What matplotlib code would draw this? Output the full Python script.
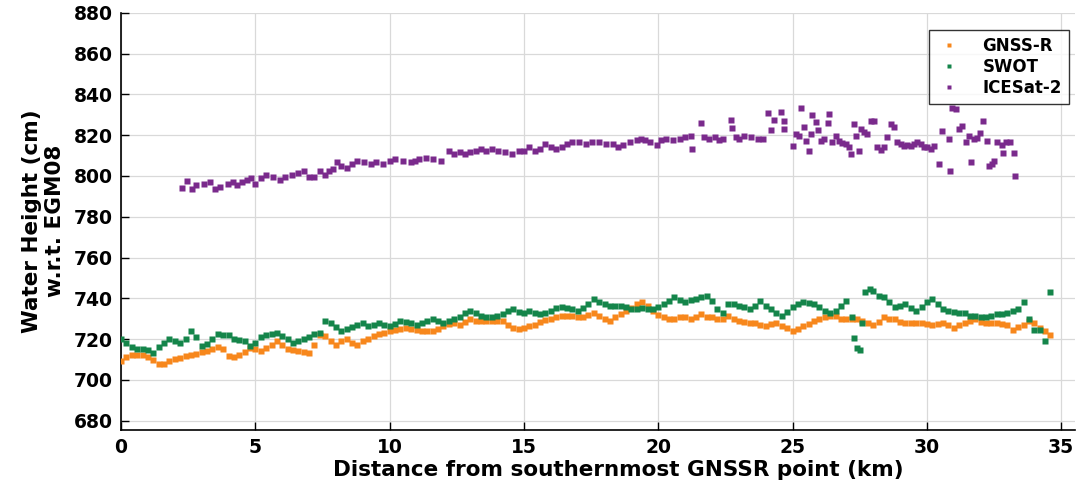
import numpy as np
import matplotlib
matplotlib.use("Agg")
import matplotlib.pyplot as plt

plt.rcParams["font.family"] = "DejaVu Sans"
plt.rcParams["font.weight"] = "bold"

# ===== GNSS-R (every 0.2 km) =====
gnss_x = np.round(np.arange(0, 34.61, 0.2), 1)
gnss_y = [
    709, 711, 712, 712.4, 712, 711, 709.5, 708, 708, 709,
    710, 710.8, 711.5, 712, 712.5, 713.5, 714, 715, 716, 715,
    711.6, 711, 712, 713.5, 715.5, 715, 714, 715.5, 717, 719,
    717, 715, 714.5, 714, 713.5, 713, 717.3, 722, 721.6, 719,
    717.3, 719, 720, 718, 717, 719, 720, 721.5, 722.5, 723,
    724, 724.6, 725, 725.4, 725, 724.6, 724, 724, 724, 725,
    726.3, 727.5, 728, 727, 728.5, 729.6, 729, 729, 729, 729,
    729, 729, 727, 725.4, 725, 725.4, 726.5, 727, 728.5, 729.3,
    730, 730.6, 731.2, 731.5, 731.5, 731, 730.6, 732, 733, 731.5,
    730, 729, 731, 732.3, 734, 735, 737, 738, 736.4, 734,
    732, 731, 730, 729.6, 731, 731, 729.6, 731, 732.3, 731,
    730.6, 729.6, 730, 731.5, 730, 729, 728.5, 728, 728, 727,
    726.3, 727.5, 728, 726.5, 725.4, 723.8, 725, 726.3, 727.5, 729,
    730, 730.6, 731.5, 731.5, 730, 729.6, 729.6, 729.6, 729, 728,
    727, 728.5, 730.6, 730, 729.6, 728.5, 728, 728, 728, 728,
    727.5, 727, 727.5, 728, 727, 725.4, 727, 728, 729, 729.6,
    728.5, 728, 728, 728, 727.5, 727, 724.6, 726, 727, 729,
    728, 725.4, 724, 722,
]

# ===== SWOT =====
swot_x = [
    0.0, 0.2, 0.4, 0.6, 0.8, 1.0, 1.2, 1.4, 1.6, 1.8,
    2.0, 2.2, 2.4, 2.6, 2.8, 3.0, 3.2, 3.4, 3.6, 3.8,
    4.0, 4.2, 4.4, 4.6, 4.8, 5.0, 5.2, 5.4, 5.6, 5.8,
    6.0, 6.2, 6.4, 6.6, 6.8, 7.0, 7.2, 7.4, 7.6, 7.8,
    8.0, 8.2, 8.4, 8.6, 8.8, 9.0, 9.2, 9.4, 9.6, 9.8,
    10.0, 10.2, 10.4, 10.6, 10.8, 11.0, 11.2, 11.4, 11.6, 11.8,
    12.0, 12.2, 12.4, 12.6, 12.8, 13.0, 13.2, 13.4, 13.6, 13.8,
    14.0, 14.2, 14.4, 14.6, 14.8, 15.0, 15.2, 15.4, 15.6, 15.8,
    16.0, 16.2, 16.4, 16.6, 16.8, 17.0, 17.2, 17.4, 17.6, 17.8,
    18.0, 18.2, 18.4, 18.6, 18.8, 19.0, 19.2, 19.4, 19.6, 19.8,
    20.0, 20.2, 20.4, 20.6, 20.8, 21.0, 21.2, 21.4, 21.6, 21.8,
    22.0, 22.2, 22.4, 22.6, 22.8, 23.0, 23.2, 23.4, 23.6, 23.8,
    24.0, 24.2, 24.4, 24.6, 24.8, 25.0, 25.2, 25.4, 25.6, 25.8,
    26.0, 26.2, 26.4, 26.6, 26.8, 27.0, 27.2, 27.3, 27.4, 27.5,
    27.6, 27.7, 27.9, 28.0, 28.2, 28.4, 28.6, 28.8, 29.0, 29.2,
    29.4, 29.6, 29.8, 30.0, 30.2, 30.4, 30.6, 30.8, 31.0, 31.2,
    31.4, 31.6, 31.8, 32.0, 32.2, 32.4, 32.6, 32.8, 33.0, 33.2,
    33.4, 33.6, 33.8, 34.0, 34.2, 34.4, 34.6,
]
swot_y = [
    720, 718, 716, 715, 715, 714.5, 713, 716, 718, 720,
    719, 718.3, 720, 724, 721, 716.6, 717.5, 720, 722.3, 722,
    722, 720, 719.5, 719, 716.5, 718, 721, 722, 722.5, 723,
    721.5, 720, 718, 719, 720, 721, 722.3, 723, 728.8, 728,
    726, 724, 725, 726, 727, 728, 726.3, 727, 728, 727,
    726.3, 727.5, 729, 728.5, 728, 727, 728, 729, 729.6, 729,
    728, 729, 729.6, 731, 733, 734, 733, 731.5, 731, 730.6,
    731.5, 732.3, 734, 734.8, 733.5, 733, 734, 733, 732.3, 733,
    734, 735, 735.7, 735, 734.8, 734, 735, 737, 739.7, 738,
    737, 736.4, 736.4, 736, 735.5, 734.8, 734.8, 735, 734.8, 734.8,
    735.5, 737, 738.5, 740.4, 739, 738, 739, 739.7, 740.5, 741.3,
    738.7, 734.8, 733, 737.2, 737, 736.4, 735.5, 734.8, 736.4, 738.7,
    736, 734.8, 733, 731.5, 733.5, 735.7, 737, 738, 737.5, 737.2,
    735.5, 734, 733, 734, 736.4, 738.7, 730.6, 720.7, 715.7, 714.8,
    728, 742.9, 744.6, 743.8, 741.3, 740.4, 738, 735.7, 736.4, 737.2,
    735, 734, 735.7, 738, 739.7, 737.2, 734.8, 734, 733.5, 733,
    733, 731.5, 731.5, 731, 730.6, 731.5, 732.3, 732.3, 733, 734,
    734.8, 738, 729.6, 724.6, 724.6, 719, 742.9,
]

# ===== ICESat-2 =====
ice_x = [
    2.26, 2.45, 2.63, 2.8, 3.1, 3.3, 3.5, 3.7, 3.98, 4.15,
    4.3, 4.5, 4.7, 4.85, 5.0, 5.2, 5.4, 5.65, 5.9, 6.1,
    6.35, 6.6, 6.8, 7.0, 7.2, 7.4, 7.6, 7.75, 7.9, 8.05,
    8.2, 8.4, 8.6, 8.8, 9.05, 9.3, 9.5, 9.75, 10.0, 10.2,
    10.5, 10.8, 10.95, 11.1, 11.35, 11.6, 11.9, 12.2, 12.4, 12.6,
    12.8, 13.0, 13.2, 13.4, 13.6, 13.8, 14.05, 14.3, 14.55, 14.8,
    15.0, 15.2, 15.4, 15.6, 15.8, 16.0, 16.2, 16.4, 16.6, 16.8,
    17.05, 17.3, 17.55, 17.8, 18.05, 18.3, 18.5, 18.7, 18.95, 19.2,
    19.35, 19.5, 19.7, 19.95, 20.1, 20.3, 20.55, 20.8, 21.0, 21.2,
    21.25, 21.6, 21.7, 21.9, 22.1, 22.25, 22.4, 22.7, 22.75, 22.9,
    23.0, 23.2, 23.45, 23.7, 23.9, 24.1, 24.2, 24.3,
    24.56, 24.69, 24.69, 25.0, 25.12, 25.24, 25.3, 25.43, 25.49, 25.62,
    25.68, 25.74, 25.86, 25.93, 26.05, 26.17, 26.3, 26.36, 26.48, 26.61,
    26.73, 26.85, 26.98, 27.1, 27.16, 27.29, 27.35, 27.47, 27.54, 27.66,
    27.78, 27.91, 28.03, 28.16, 28.28, 28.4, 28.53, 28.65, 28.78, 28.9,
    29.02, 29.15, 29.27, 29.4, 29.52, 29.64, 29.77, 29.89, 30.01, 30.14,
    30.26, 30.45, 30.57, 30.82, 30.86, 30.94, 31.07, 31.19, 31.29, 31.44,
    31.56, 31.63, 31.75, 31.87, 31.96, 32.08, 32.24, 32.31, 32.43, 32.49,
    32.62, 32.78, 32.83, 32.95, 33.11, 33.24, 33.27,
]
ice_y = [
    794.3, 797.6, 793.5, 795.5, 796, 797, 793.5, 794.5, 796, 797,
    795.5, 797, 798, 799, 796, 799, 800.5, 799.5, 798, 799.5,
    800.5, 801.4, 802.3, 799.5, 799.5, 802.3, 800.5, 802.3, 803.2, 806.6,
    805, 804, 805.8, 807.4, 806.6, 805.8, 806.6, 805.8, 807.4, 808.3,
    807.4, 806.6, 807.4, 808.3, 809, 808.3, 807.4, 812.4, 810.7, 811.6,
    810.7, 811.6, 812.4, 813.2, 812.4, 813.2, 812.4, 811.6, 810.7, 812.4,
    812.4, 814.2, 812.4, 813.2, 815.8, 814.2, 813.2, 814.2, 815.8, 816.6,
    816.6, 815.8, 816.6, 816.6, 815.8, 815.8, 814.2, 815, 816.6, 817.4,
    818.3, 817.4, 816.6, 815, 817.4, 818.3, 817.4, 818.3, 819, 819.8,
    813.2, 826, 819, 818.3, 819, 817.4, 818.3, 827.2, 823.5, 819,
    818.3, 819.8, 819, 818.3, 818.3, 831, 822.6, 827.5,
    831.2, 827.1, 823, 814.8, 820.5, 819.7, 833.2, 823.8, 817.3, 812.4,
    820.5, 829.9, 826.6, 822.7, 817.3, 818.1, 825.8, 830.4, 816.8, 819.7,
    817.3, 816.1, 815.6, 814, 810.7, 825.5, 819.7, 812.4, 823, 821.4,
    820.5, 827.1, 827.1, 814, 812.9, 814, 818.9, 825.5, 823.8, 816.5,
    815.6, 814.8, 815.1, 814.8, 815.6, 816.8, 815.6, 814, 814, 813.2,
    814.8, 805.8, 822.2, 818.1, 802.5, 833.2, 832.8, 823, 824.6, 816.5,
    819.7, 806.6, 818.1, 818.4, 821, 827.1, 817.3, 804.7, 805.8, 807.4,
    816.8, 815.1, 811.5, 816.5, 816.5, 811.2, 800.1,
]

c_gnss = "#F7871C"
c_swot = "#14854A"
c_ice = "#7A2A8C"

fig = plt.figure(figsize=(10.91, 4.94), dpi=100)
ax = fig.add_axes([0.111, 0.130, 0.874, 0.844])

ms = 4.0
ax.plot(gnss_x, gnss_y, "s", ms=ms, color=c_gnss, mec="none", label="GNSS-R", zorder=3)
ax.plot(swot_x, swot_y, "s", ms=ms, color=c_swot, mec="none", label="SWOT", zorder=3)
ax.plot(ice_x, ice_y, "s", ms=ms, color=c_ice, mec="none", label="ICESat-2", zorder=3)

ax.set_xlim(0, 35.5)
ax.set_ylim(675.5, 880)
ax.set_xticks(range(0, 36, 5))
ax.set_yticks(range(680, 881, 20))
ax.grid(True, color="#d9d9d9", linewidth=0.9)
ax.set_axisbelow(True)

for s in ["top", "right"]:
    ax.spines[s].set_visible(False)
for s in ["left", "bottom"]:
    ax.spines[s].set_linewidth(1.2)
ax.tick_params(direction="in", length=6, width=1, labelsize=13.5, pad=6)

ax.set_xlabel("Distance from southernmost GNSSR point (km)", fontsize=15.5, fontweight="bold")
ax.xaxis.set_label_coords(0.521, -0.072, transform=ax.transAxes)
ax.xaxis.label.set_va("top")
ax.set_ylabel("Water Height (cm)\nw.r.t. EGM08", fontsize=15.5, fontweight="bold", labelpad=6)

leg = ax.legend(loc="upper right", bbox_to_anchor=(0.9937, 0.959), borderaxespad=0,
                fontsize=12, frameon=True, fancybox=False, edgecolor="black",
                markerscale=0.8, handletextpad=1.2, borderpad=0.4, labelspacing=0.2,
                handlelength=1.6)
leg.get_frame().set_linewidth(1.0)
for t in leg.get_texts():
    t.set_fontweight("bold")

plt.savefig("out.png", dpi=100)
plt.close()
